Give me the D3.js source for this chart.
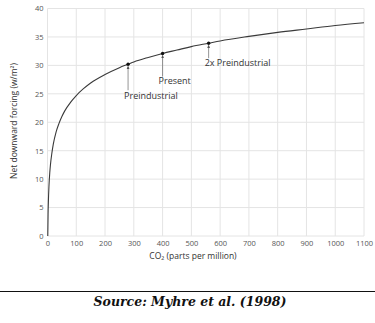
<!DOCTYPE html>
<html><head><meta charset="utf-8">
<script src="https://cdn.jsdelivr.net/npm/d3@7"></script>
<style>
html,body{margin:0;padding:0;background:#fff;}
svg{display:block;}
</style></head>
<body>
<svg id="c" width="375" height="323"></svg>
<script>
// CO2 concentration (ppm) and net downward forcing (W/m2)
const co2 =     [1, 2, 3, 5, 8, 10, 15, 20, 30, 40, 50, 60, 80, 100, 125, 150, 200, 250, 280, 300, 350, 400, 450, 500, 560, 600, 700, 800, 900, 1000, 1100];
const forcing = [0.0, 3.8, 5.9, 8.7, 11.2, 12.4, 14.5, 16.1, 18.3, 19.8, 21.0, 22.0, 23.5, 24.7, 25.9, 26.9, 28.4, 29.6, 30.2, 30.6, 31.4, 32.1, 32.7, 33.3, 33.9, 34.3, 35.1, 35.8, 36.4, 37.0, 37.5];
const markerCO2 = [280, 400, 560];
const markerForcing = [30.2, 32.1, 33.9];
const markerLabels = ["Preindustrial", "Present", "2x Preindustrial"];
const xTicks = [0, 100, 200, 300, 400, 500, 600, 700, 800, 900, 1000, 1100];
const yTicks = [0, 5, 10, 15, 20, 25, 30, 35, 40];
const xTitle = "CO₂ (parts per million)";
const yTitle = "Net downward forcing (w/m²)";
const source = "Source: Myhre et al. (1998)";

const svg = d3.select("#c");
const x = d3.scaleLinear().domain([0, 1100]).range([47.5, 364]);
const y = d3.scaleLinear().domain([0, 40]).range([236, 8.5]);
const font = "'Open Sans', sans-serif";

// grid
svg.append("g").selectAll("line").data(xTicks).join("line")
  .attr("x1", d => x(d)).attr("x2", d => x(d)).attr("y1", y(0)).attr("y2", y(40))
  .attr("stroke", "#e4e4e4").attr("stroke-width", 1);
svg.append("g").selectAll("line").data(yTicks).join("line")
  .attr("x1", x(0)).attr("x2", x(1100)).attr("y1", d => y(d)).attr("y2", d => y(d))
  .attr("stroke", "#e4e4e4").attr("stroke-width", 1);

// axes via d3 axis, no domain lines
const xAxis = svg.append("g").attr("transform", `translate(0,${y(0)})`)
  .call(d3.axisBottom(x).tickValues(xTicks).tickFormat(d3.format("d")).tickSize(0).tickPadding(5));
xAxis.select(".domain").remove();
xAxis.selectAll("text").attr("font-family", font).attr("font-size", 7.5).attr("fill", "#555");
const yAxis = svg.append("g").attr("transform", `translate(${x(0)},0)`)
  .call(d3.axisLeft(y).tickValues(yTicks).tickFormat(d3.format("d")).tickSize(0).tickPadding(4));
yAxis.select(".domain").remove();
yAxis.selectAll("text").attr("font-family", font).attr("font-size", 7.5).attr("fill", "#555");

// curve
const pts = co2.map((c, i) => [c, forcing[i]]);
svg.append("path").datum(pts)
  .attr("d", d3.line().x(d => x(d[0])).y(d => y(d[1])).curve(d3.curveMonotoneX))
  .attr("fill", "none").attr("stroke", "#3a3a3a").attr("stroke-width", 1.1);

// markers, arrows, labels
const defs = svg.append("defs");
defs.append("marker").attr("id", "ah").attr("viewBox", "0 0 10 10")
  .attr("refX", 5).attr("refY", 5).attr("markerWidth", 5).attr("markerHeight", 5)
  .attr("orient", "auto")
  .append("path").attr("d", "M0,1 L10,5 L0,9 z").attr("fill", "#555");
const arrowLen = [26, 23, 15];
const labelDrop = [35, 31, 23];
markerCO2.forEach((c, i) => {
  const px = x(c), py = y(markerForcing[i]);
  svg.append("circle").attr("cx", px).attr("cy", py).attr("r", 1.7).attr("fill", "#111");
  svg.append("line").attr("x1", px).attr("x2", px)
    .attr("y1", py + arrowLen[i]).attr("y2", py + 3)
    .attr("stroke", "#666").attr("stroke-width", 0.7).attr("marker-end", "url(#ah)");
  svg.append("text").attr("x", px - 4).attr("y", py + labelDrop[i])
    .attr("font-family", font).attr("font-size", 9).attr("fill", "#333")
    .text(markerLabels[i]);
});

// axis titles
svg.append("text").attr("x", 193).attr("y", 259).attr("text-anchor", "middle")
  .attr("font-family", font).attr("font-size", 8.5).attr("fill", "#333").text(xTitle);
svg.append("text").attr("transform", `translate(17,121) rotate(-90)`).attr("text-anchor", "middle")
  .attr("font-family", font).attr("font-size", 8.5).attr("fill", "#333").text(yTitle);

// separator and source
svg.append("line").attr("x1", 0).attr("x2", 375).attr("y1", 291.5).attr("y2", 291.5)
  .attr("stroke", "#111").attr("stroke-width", 1);
svg.append("text").attr("x", 190).attr("y", 306).attr("text-anchor", "middle")
  .attr("font-family", "'DejaVu Serif', serif").attr("font-weight", "bold").attr("font-style", "italic")
  .attr("font-size", 12.5).attr("fill", "#111").text(source);
</script>
</body></html>
